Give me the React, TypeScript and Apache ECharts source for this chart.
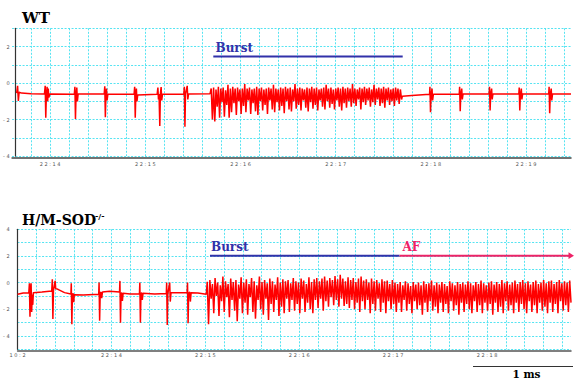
import React, { useEffect, useRef } from "react";
import * as echarts from "echarts";

// ---------- data (x in grid cells, y in mV) ----------
const WT_PRE: [number, number][] = [
  [0.24, -0.55], [0.29, -0.15], [0.33, -0.98], [0.37, -0.5], [0.5, -0.55], [1.0, -0.58],
  [1.7, -0.6], [1.74, -0.15], [1.77, -1.9], [1.8, -0.7], [1.84, -0.2], [1.87, -1.0], [1.9, -0.3], [1.93, -0.8], [1.98, -0.6],
  [3.27, -0.62], [3.3, -0.2], [3.33, -1.97], [3.36, -0.7], [3.4, -0.25], [3.43, -1.0], [3.47, -0.6],
  [4.84, -0.6], [4.87, -0.18], [4.9, -1.87], [4.93, -0.7], [4.96, -0.3], [4.99, -0.95], [5.03, -0.62],
  [6.41, -0.62], [6.44, -0.2], [6.47, -1.9], [6.5, -0.7], [6.53, -0.3], [6.56, -1.0], [6.6, -0.65],
  [7.62, -0.62], [7.66, -0.25], [7.69, -0.9], [7.72, -0.6], [7.76, -2.35], [7.79, -0.6], [7.83, -0.22], [7.86, -0.95], [7.9, -0.62],
  [9.02, -0.62], [9.05, -0.2], [9.08, -2.4], [9.11, -0.6], [9.2, -0.15], [9.23, -0.9], [9.27, -0.6],
  [10.4, -0.58],
];
const WT_BURST_START = 10.46;
const WT_BURST_END = 20.46;
const WT_BURST: number[] = [
  -0.3, -2.0, -0.25, -2.1, -0.35, -1.3, -0.2, -1.9, -0.3, -1.05, -0.25, -1.85, -0.4, -1.2, -0.1, -1.9, -0.3, -1.6, -0.2, -1.1,
  -0.3, -1.75, -0.25, -1.0, -0.35, -1.7, -0.3, -1.25, -0.05, -1.6, -0.3, -0.95, -0.25, -1.7, -0.35, -1.1, -0.3, -1.55, -0.2, -1.75,
  -0.3, -1.0, -0.25, -1.5, -0.35, -1.2, -0.3, -1.7, -0.25, -0.95, -0.3, -1.45, -0.1, -1.6, -0.3, -1.05, -0.35, -1.5, -0.25, -1.25,
  -0.3, -1.65, -0.2, -1.0, -0.3, -1.45,
  -0.25, -1.55, -0.35, -1.0, -0.05, -1.4, -0.3, -1.2, -0.25, -1.5, -0.3, -0.95, -0.35, -1.35, -0.25, -1.55, -0.3, -1.05, -0.2, -1.4,
  -0.3, -1.2, -0.25, -1.5, -0.35, -0.95, -0.3, -1.3, -0.25, -1.45, -0.1, -1.0, -0.3, -1.35, -0.25, -1.15, -0.35, -1.45, -0.3, -0.95,
  -0.25, -1.3, -0.3, -1.5, -0.2, -1.1, -0.3, -1.35, -0.25, -1.0,
  -0.3, -1.3, -0.05, -1.1, -0.3, -1.25, -0.35, -0.9, -0.25, -1.45, -0.3, -1.05, -0.2, -1.2, -0.3, -0.95, -0.25, -1.3, -0.35, -1.05,
  -0.1, -1.2, -0.3, -0.9, -0.25, -1.25, -0.3, -1.1, -0.2, -1.35, -0.3, -0.95, -0.25, -1.2, -0.35, -1.0, -0.3, -1.25, -0.25, -0.95,
  -0.3, -1.15, -0.35, -0.9,
];
const WT_POST: [number, number][] = [
  [20.5, -0.72], [21.0, -0.68], [21.93, -0.62],
  [21.95, -0.2], [21.98, -1.6], [22.01, -0.65], [22.06, -0.3], [22.09, -0.95], [22.13, -0.62],
  [23.49, -0.6], [23.51, -0.2], [23.54, -1.55], [23.57, -0.65], [23.62, -0.3], [23.65, -0.9], [23.69, -0.6],
  [25.06, -0.6], [25.08, -0.2], [25.11, -1.5], [25.14, -0.65], [25.19, -0.3], [25.22, -0.9], [25.26, -0.6],
  [26.62, -0.6], [26.64, -0.25], [26.67, -1.5], [26.7, -0.65], [26.75, -0.3], [26.78, -0.9], [26.82, -0.6],
  [28.19, -0.6], [28.21, -0.2], [28.24, -1.65], [28.27, -0.65], [28.32, -0.3], [28.35, -0.95], [28.39, -0.6],
  [29.36, -0.6],
];

const SOD_PRE: [number, number][] = [
  [0, -0.87], [0.3, -0.78], [0.6, -0.75],
  [0.63, -0.05], [0.66, -2.55], [0.69, -0.8], [0.72, -0.05], [0.75, -2.2], [0.78, -0.9], [0.81, -1.67], [0.84, -0.75],
  [1.3, -0.7], [1.82, -0.62],
  [1.85, 0.25], [1.88, -2.72], [1.91, -0.6], [2.0, 0.13], [2.03, -0.45], [2.15, -0.5], [2.5, -0.75], [2.84, -0.85],
  [2.86, -0.05], [2.89, -3.12], [2.92, -0.9], [2.96, -0.8], [2.99, -1.47], [3.02, -0.9], [3.5, -0.92], [4.32, -0.88],
  [4.34, 0.0], [4.37, -2.85], [4.4, -0.8], [4.45, -0.7], [4.48, -1.17], [4.52, -0.7], [4.9, -0.65], [5.43, -0.7],
  [5.45, 0.13], [5.48, -3.0], [5.51, -0.85], [5.55, -0.75], [5.58, -1.37], [5.62, -0.8], [6.0, -0.85], [6.49, -0.85],
  [6.51, 0.0], [6.54, -3.0], [6.57, -0.85], [6.61, -0.75], [6.64, -1.3], [6.68, -0.8], [7.3, -0.85], [7.92, -0.82],
  [7.94, 0.0], [7.97, -3.17], [8.0, -0.85], [8.1, 0.0], [8.13, -1.42], [8.17, -0.75], [8.6, -0.75], [9.03, -0.75],
  [9.05, 0.0], [9.08, -3.05], [9.11, -0.8], [9.17, -0.7], [9.2, -1.42], [9.24, -0.75], [9.6, -0.78], [10.05, -0.87],
];
const SOD_BURST_START = 10.1;
const SOD_BURST_END = 29.47;
const SOD_BURST: number[] = [
  0.07, -3.12, 0.2, -1.2, -0.1, -2.3, 0.35, -1.0, 0.0, -2.5, -0.2, -1.4, 0.45, -2.2, 0.1, -1.1, -0.1, -2.6, 0.3, -1.3,
  0.05, -2.1, 0.2, -2.9, -0.15, -1.2, 0.4, -2.3, 0.0, -1.5, 0.25, -2.4, -0.1, -1.1, 0.35, -2.2, 0.1, -2.7, -0.2, -1.3,
  0.45, -2.0, 0.05, -2.4, 0.2, -1.2, -0.05, -2.8, 0.3, -1.6, 0.1, -2.2, -0.15, -1.3, 0.4, -2.5, 0.0, -1.8, 0.25, -2.3,
  0.1, -1.2,
  0.2, -2.2, -0.05, -1.3, 0.35, -2.1, 0.1, -1.6, 0.0, -2.3, 0.3, -1.2, 0.15, -2.2, -0.1, -1.5, 0.4, -2.0, 0.05, -2.3,
  0.25, -1.3, 0.35, -1.9, 0.1, -1.2, 0.3, -2.1, 0.45, -1.4, 0.15, -1.8, 0.35, -1.1, 0.2, -1.7, 0.5, -1.3, 0.25, -1.8,
  0.58, -1.2, 0.3, -1.75, 0.1, -1.6, 0.4, -1.9, 0.2, -1.3, 0.35, -2.0, 0.05, -1.5, 0.3, -2.2, 0.45, -1.4, 0.15, -2.0,
  0.25, -1.3, 0.0, -2.3, 0.3, -1.6, 0.1, -2.1, 0.2, -1.2, -0.05, -2.2, 0.25, -1.5, 0.1, -2.3, 0.15, -1.4, -0.1, -2.0,
  0.2, -1.6, 0.0, -2.2,
  -0.1, -1.5, 0.05, -2.2, -0.2, -1.3, 0.1, -2.1, -0.05, -1.6, -0.25, -2.3, 0.05, -1.4, -0.15, -2.0, 0.0, -1.7, -0.2, -2.4,
  0.1, -1.5, -0.1, -2.2, -0.05, -1.4, 0.15, -2.1, -0.2, -1.8, 0.0, -2.3, -0.15, -1.5, 0.05, -2.2, -0.1, -1.6, -0.25, -2.3,
  0.1, -1.4, -0.05, -2.1, -0.2, -1.7, 0.05, -2.4, -0.1, -1.5, 0.0, -2.2, -0.15, -1.6, 0.1, -2.0, -0.05, -2.3, -0.2, -1.4,
  0.05, -2.2, -0.1, -1.7, 0.15, -2.3, -0.05, -1.5, -0.2, -2.1, 0.0, -1.6, 0.1, -2.4, -0.15, -1.5, 0.05, -2.2, -0.1, -1.8,
  0.2, -2.3, -0.05, -1.4, 0.1, -2.1, -0.15, -1.7, 0.0, -2.3, 0.15, -1.5, -0.1, -2.2, 0.05, -1.6, 0.2, -2.0, -0.05, -2.3,
  0.1, -1.4, -0.15, -2.2, 0.05, -1.7, 0.15, -2.3, -0.1, -1.5, 0.0, -2.1, 0.2, -1.8, -0.05, -2.3, 0.1, -1.5, 0.15, -2.2,
  -0.1, -1.6, 0.05, -2.3, 0.2, -1.4, -0.05, -2.1, 0.1, -1.7, 0.0, -2.2, 0.15, -1.5,
];

const TOP_TIME_LABELS = ["22:14", "22:15", "22:16", "22:17", "22:18", "22:19"];
const BOTTOM_TIME_LABELS = ["10:2", "22:14", "22:15", "22:16", "22:17", "22:18"];

// ---------- helpers ----------
function withBurst(pre: [number, number][], burst: number[], start: number, end: number, post: [number, number][]) {
  const step = (end - start) / (burst.length - 1);
  return [...pre, ...burst.map((v, i) => [start + i * step, v]), ...post];
}
const spaced = (s: string) => s.split("").join(" ");
const yLabel = (v: number) => (Math.round(v) % 2 === 0 ? (v < 0 ? "- " + -v : String(v)) : "");

const GRID_COLOR = "#55e4f2";
const TRACE = "#ff0000";
const BLUE = "#3131a9";
const PINK = "#ee2266";
const SERIF = '"DejaVu Serif", "Liberation Serif", serif';

export default function App() {
  const ref = useRef<HTMLDivElement>(null);
  useEffect(() => {
    if (!ref.current) return;
    const chart = echarts.init(ref.current, undefined, { renderer: "svg" });
    const split = { show: true, showMinLine: false, showMaxLine: false, lineStyle: { color: GRID_COLOR, type: [2, 1.5], width: 1 } };
    const ySplit = { show: true, lineStyle: { color: GRID_COLOR, type: [2, 1.5], width: 1 } };
    const tinyLabel = { fontSize: 5, color: "#555", fontFamily: "DejaVu Sans" };
    chart.setOption({
      animation: false,
      backgroundColor: "#ffffff",
      grid: [
        { left: 11.5, right: 0, top: 28.3, height: 127.75 },
        { left: 17, right: 0, top: 229.3, height: 120 },
      ],
      xAxis: [
        {
          type: "value", gridIndex: 0, min: 0, max: 29.36, interval: 1, offset: 2,
          axisLine: { show: true, onZero: false, lineStyle: { color: "#444", width: 1.5 } },
          axisTick: { show: false }, splitLine: split,
          axisLabel: {
            ...tinyLabel, margin: 3,
            formatter: (v: number) => {
              const r = Math.round(v);
              if (Math.abs(v - r) > 1e-6 || r % 5 !== 2) return "";
              const s = TOP_TIME_LABELS[(r - 2) / 5];
              return s ? spaced(s) : "";
            },
          },
        },
        {
          type: "value", gridIndex: 1, min: 0, max: 29.47, interval: 1, offset: 1,
          axisLine: { show: true, onZero: false, lineStyle: { color: "#555", width: 1.5 } },
          axisTick: { show: false }, splitLine: split,
          axisLabel: {
            ...tinyLabel, margin: 2,
            formatter: (v: number) => {
              const r = Math.round(v);
              if (Math.abs(v - r) > 1e-6 || r % 5 !== 0) return "";
              const s = BOTTOM_TIME_LABELS[r / 5];
              return s ? spaced(s) : "";
            },
          },
        },
      ],
      yAxis: [
        {
          type: "value", gridIndex: 0, min: -4, max: 3, interval: 1, offset: -3.5,
          axisLine: { show: true, onZero: false, lineStyle: { color: "#333", width: 1.2 } },
          axisTick: { show: false }, splitLine: ySplit,
          axisLabel: { ...tinyLabel, margin: 6, formatter: yLabel },
        },
        {
          type: "value", gridIndex: 1, min: -5, max: 4, interval: 1,
          axisLine: { show: true, onZero: false, lineStyle: { color: "#333", width: 1.2 } },
          axisTick: { show: false }, splitLine: ySplit,
          axisLabel: { ...tinyLabel, margin: 8, formatter: yLabel },
        },
      ],
      series: [
        {
          type: "line", xAxisIndex: 0, yAxisIndex: 0, showSymbol: false, symbol: "none",
          lineStyle: { color: TRACE, width: 1.5 },
          data: withBurst(WT_PRE, WT_BURST, WT_BURST_START, WT_BURST_END, WT_POST),
        },
        {
          type: "line", xAxisIndex: 1, yAxisIndex: 1, showSymbol: false, symbol: "none",
          lineStyle: { color: TRACE, width: 1.5 },
          data: withBurst(SOD_PRE, SOD_BURST, SOD_BURST_START, SOD_BURST_END, []),
        },
      ],
      graphic: [
        { type: "text", x: 22, y: 18.3, z: 100, style: { text: "WT", font: `bold 15px ${SERIF}`, fill: "#000", verticalAlign: "middle" } },
        { type: "text", x: 22, y: 220, z: 100, style: { text: "H/M-SOD", font: `bold 14px ${SERIF}`, fill: "#000", verticalAlign: "middle" } },
        { type: "text", x: 95, y: 215.5, z: 100, style: { text: "-/-", font: `bold 8px ${SERIF}`, fill: "#000", verticalAlign: "middle" } },
        { type: "text", x: 215.5, y: 48, z: 100, style: { text: "Burst", font: `bold 12px ${SERIF}`, fill: BLUE, verticalAlign: "middle" } },
        { type: "line", z: 100, shape: { x1: 213.3, y1: 56.5, x2: 402.7, y2: 56.5 }, style: { stroke: BLUE, lineWidth: 2 } },
        { type: "text", x: 211, y: 247.2, z: 100, style: { text: "Burst", font: `bold 12px ${SERIF}`, fill: BLUE, verticalAlign: "middle" } },
        { type: "line", z: 100, shape: { x1: 210, y1: 255.7, x2: 399.5, y2: 255.7 }, style: { stroke: BLUE, lineWidth: 2 } },
        { type: "text", x: 402.5, y: 247.2, z: 100, style: { text: "AF", font: `bold 12px ${SERIF}`, fill: PINK, verticalAlign: "middle" } },
        { type: "line", z: 100, shape: { x1: 399.5, y1: 255.7, x2: 570, y2: 255.7 }, style: { stroke: PINK, lineWidth: 2 } },
        { type: "polygon", z: 100, shape: { points: [[568.5, 252.3], [574, 255.7], [568.5, 259.1]] }, style: { fill: PINK } },
        { type: "line", z: 100, shape: { x1: 473, y1: 366.5, x2: 573, y2: 366.5 }, style: { stroke: "#333", lineWidth: 1 } },
        { type: "text", x: 512.5, y: 373.5, z: 100, style: { text: "1 ms", font: `bold 10.5px ${SERIF}`, fill: "#000", verticalAlign: "middle" } },
      ],
    });
    return () => chart.dispose();
  }, []);
  return <div ref={ref} style={{ position: "absolute", left: 0, top: 0, width: 574, height: 378 }} />;
}
